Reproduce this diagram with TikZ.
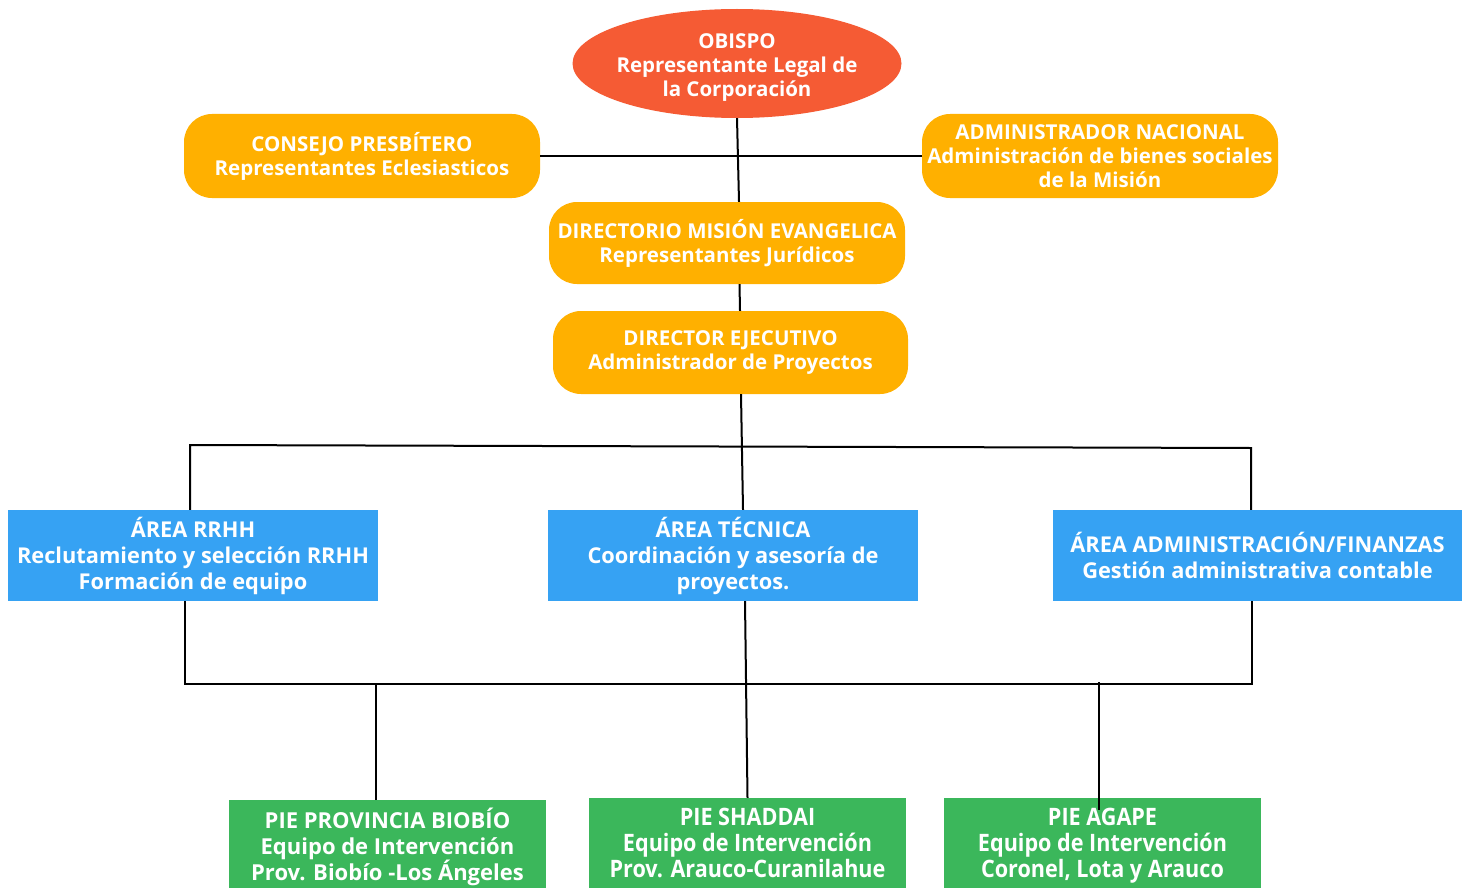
\documentclass[tikz,border=0pt]{standalone}
\usepackage{fontspec}
\setmainfont{Open Sans}
\newfontfamily\condfont{Open Sans}[FakeStretch=0.9]
\usetikzlibrary{shapes.geometric}
\definecolor{redfill}{RGB}{245,91,52}
\definecolor{orangefill}{RGB}{255,176,0}
\definecolor{bluefill}{RGB}{54,162,243}
\definecolor{greenfill}{RGB}{59,183,91}
\begin{document}
\begin{tikzpicture}[x=1pt,y=-1pt,
  base/.style={text=white, align=center, inner sep=0pt, font=\bfseries\fontsize{20.5}{24}\selectfont},
  ovalbox/.style={base, ellipse, fill=redfill, minimum width=329pt, minimum height=109pt},
  orangebox/.style={base, fill=orangefill, rounded corners=28pt, minimum width=356pt, minimum height=84pt},
  bluebox/.style={base, fill=bluefill, minimum width=370pt, minimum height=91pt, font=\bfseries\fontsize{21.8}{26}\selectfont},
  greenbox/.style={base, fill=greenfill, minimum width=317pt, minimum height=89pt, font=\bfseries\fontsize{22}{26}\selectfont},
  greencond/.style={greenbox, font=\condfont\bfseries\fontsize{24}{26}\selectfont},
  link/.style={draw=black, line width=2pt}]
\useasboundingbox (0,0) rectangle (1469,888);
\fill[white] (0,0) rectangle (1469,888);
% nodes
\node[ovalbox, label={[base, yshift=-4.5pt]center:{OBISPO\\Representante Legal de\\la Corporación}}] (obispo) at (737,63.5) {};
\node[orangebox] (consejo) at (362,156) {CONSEJO PRESBÍTERO\\Representantes Eclesiasticos};
\node[orangebox] (admnac) at (1100,156) {ADMINISTRADOR NACIONAL\\Administración de bienes sociales\\de la Misión};
\node[orangebox, minimum height=82pt] (directorio) at (727,243) {DIRECTORIO MISIÓN EVANGELICA\\Representantes Jurídicos};
\node[orangebox, minimum width=355pt, minimum height=83pt] (director) at (730.5,352.5) {DIRECTOR EJECUTIVO\\Administrador de Proyectos};
\node[bluebox] (rrhh) at (193,555.5) {ÁREA RRHH\\Reclutamiento y selección RRHH\\Formación de equipo};
\node[bluebox] (tecnica) at (733,555.5) {ÁREA TÉCNICA\\Coordinación y asesoría de\\proyectos.};
\node[bluebox, minimum width=409pt] (finanzas) at (1257.5,555.5) {ÁREA ADMINISTRACIÓN/FINANZAS\\Gestión administrativa contable};
\node[greenbox, minimum height=88pt] (biobio) at (387.5,844) {PIE PROVINCIA BIOBÍO\\Equipo de Intervención\\\smash{Prov. Biobío -Los Ángeles}};
\node[greencond, minimum height=90pt] (shaddai) at (747.5,843) {PIE SHADDAI\\Equipo de Intervención\\Prov. Arauco-Curanilahue};
\node[greencond, minimum height=90pt] (agape) at (1102.5,843) {PIE AGAPE\\Equipo de Intervención\\\smash{Coronel, Lota y Arauco}};
% junction coordinates
\coordinate (busTL) at (190,445);
\coordinate (busTR) at (1251,448);
\coordinate (busBL) at (185,684);
\coordinate (busBR) at (1252,684);
\coordinate (dropA) at (376,684);
\coordinate (dropC) at (1099,682);
\coordinate (dropCend) at (1099,810);
% connectors
\draw[link] (consejo.east) -- (admnac.west);
\draw[link] (obispo.south) -- ([xshift=2pt]obispo.south |- directorio.north);
\draw[link] ([xshift=12.5pt]directorio.south) -- ([xshift=9.5pt]director.north);
\draw[link] ([xshift=10.5pt]director.south) -- ([xshift=10pt]tecnica.north);
\draw[link] (rrhh.north -| busTL) -- (busTL) -- (busTR) -- (busTR |- finanzas.north);
\draw[link] (rrhh.south -| busBL) -- (busBL) -- (busBR) -- (busBR |- finanzas.south);
\draw[link] ([xshift=12pt]tecnica.south) -- (shaddai.north);
\draw[link] (dropA) -- (dropA |- biobio.north);
\draw[link] (dropC) -- (dropCend);
\end{tikzpicture}
\end{document}
